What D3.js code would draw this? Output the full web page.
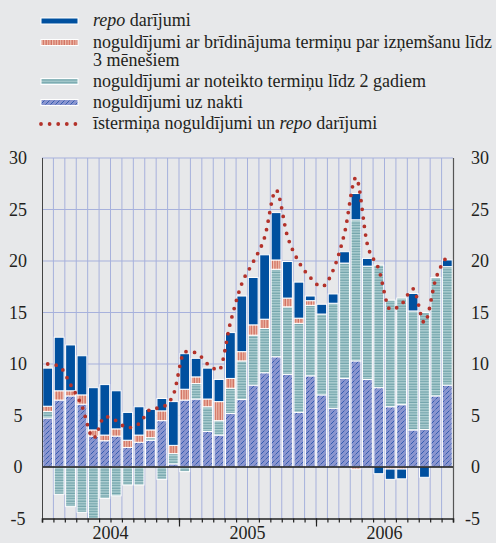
<!DOCTYPE html>
<html>
<head>
<meta charset="utf-8">
<script src="https://cdnjs.cloudflare.com/ajax/libs/d3/7.8.5/d3.min.js"></script>
<style>
  body { margin: 0; background: #e7e8ea; }
  svg { display: block; }
  text { font-family: "Liberation Serif", "Times New Roman", serif; fill: #231f20; }
</style>
</head>
<body>
<div class="container"></div>
<script>
// monthly data, Jan 2004 - Dec 2006
var years = ["2004", "2005", "2006"];

var overnight = [4.75, 6.5, 6.9, 6.1, 3.0, 2.55, 3.0, 1.9, 2.4, 2.6, 4.5, 0.3,
                 6.5, 6.6, 3.45, 3.1, 5.2, 6.55, 7.95, 9.15, 10.7, 9.0, 5.3, 8.85,
                 7.0, 5.7, 8.6, 10.3, 8.5, 7.7, 5.85, 6.05, 3.6, 3.65, 6.9, 7.95];

var fixedTerm = [0.65, -2.65, -3.85, -4.4, -5.0, -3.05, -2.8, -1.75, -1.75, 0.25, -1.2, 1.0,
                 -0.45, 1.5, 2.4, 1.4, 2.45, 3.75, 4.85, 4.3, 8.5, 6.55, 8.65, 6.85,
                 7.85, 10.2, 11.2, 13.7, 11.0, 11.9, 10.35, 10.35, 11.55, 11.35, 11.5, 11.5];

var notice = [0.5, 0.9, 0.5, 0.9, 0.6, 0.55, 0.7, 0.7, 0.7, 0.75, 0.95, 0.8,
              1.05, 0.65, 0.75, 1.85, 0.95, 0.9, 1.0, 0.9, 0.9, 0.85, 0.5, 0.45,
              0, 0, 0, -0.2, 0, 0, -0.2, -0.2, 0, 0, 0, 0];

var repo = [3.7, 5.2, 4.45, 3.8, 4.1, 4.9, 3.7, 2.7, 2.75, 2.0, 1.2, 4.25,
            3.45, 1.8, 3.0, 2.15, 4.45, 5.4, 4.6, 6.25, 4.6, 3.55, 3.5, 0.45,
            0.95, 0.9, 1.1, 2.55, 0.75, -0.65, -1.0, -0.95, 1.7, -1.0, 0, 0.65];

var total = [10.0, 9.8, 8.0, 5.9, 2.8, 4.9, 4.5, 3.8, 4.2, 5.6, 5.8, 7.0,
             11.2, 11.1, 10.0, 9.4, 14.0, 17.8, 19.9, 22.3, 26.9, 22.4, 19.9, 18.4,
             17.5, 19.1, 22.7, 28.1, 21.6, 19.2, 15.3, 15.8, 17.3, 14.0, 18.3, 20.5];

var yTicks = [-5, 0, 5, 10, 15, 20, 25, 30];

var width = 496;
var height = 543;

var svg = d3.select(".container").append("svg")
    .attr("width", width)
    .attr("height", height);

svg.append("rect").attr("width", width).attr("height", height).attr("fill", "#e7e8ea");

// patterns
var defs = svg.append("defs");

var pNight = defs.append("pattern").attr("id", "pNight")
    .attr("patternUnits", "userSpaceOnUse").attr("width", 5).attr("height", 5);
pNight.append("rect").attr("width", 5).attr("height", 5).attr("fill", "#8a95cf");
pNight.append("path").attr("d", "M0.5,4.5L4.5,0.5").attr("stroke", "#1f4fa8").attr("stroke-width", 0.8);

var pFixed = defs.append("pattern").attr("id", "pFixed")
    .attr("patternUnits", "userSpaceOnUse").attr("width", 4).attr("height", 2.6);
pFixed.append("rect").attr("width", 4).attr("height", 2.6).attr("fill", "#b0d0d3");
pFixed.append("rect").attr("y", 1.4).attr("width", 4).attr("height", 1.1).attr("fill", "#6a9ea6");

var pNotice = defs.append("pattern").attr("id", "pNotice")
    .attr("patternUnits", "userSpaceOnUse").attr("width", 2.6).attr("height", 4);
pNotice.append("rect").attr("width", 2.6).attr("height", 4).attr("fill", "#f0c0b0");
pNotice.append("rect").attr("x", 1.3).attr("width", 1.2).attr("height", 4).attr("fill", "#cd6757");

var keys = ["overnight", "fixedTerm", "notice", "repo"];
var fills = {overnight: "url(#pNight)", fixedTerm: "url(#pFixed)", notice: "url(#pNotice)", repo: "#00509f"};

var table = overnight.map(function(d, i) {
  return {i: i, overnight: overnight[i], fixedTerm: fixedTerm[i], notice: notice[i], repo: repo[i]};
});

var x = d3.scaleBand().domain(d3.range(36)).range([42, 453]);
var xl = d3.scaleLinear().domain([0, 36]).range([42, 453]);
var y = d3.scaleLinear().domain([-5, 30]).range([518.5, 158]);

// grid
var grid = svg.append("g").attr("stroke", "#a7b1dc").attr("stroke-width", 1);
grid.selectAll(".h").data([5, 10, 15, 20, 25, 30]).enter().append("line")
    .attr("x1", 42).attr("x2", 453)
    .attr("y1", function(d) { return y(d); }).attr("y2", function(d) { return y(d); });
grid.selectAll(".v").data(d3.range(1, 36)).enter().append("line")
    .attr("x1", function(d) { return xl(d); }).attr("x2", function(d) { return xl(d); })
    .attr("y1", y(30)).attr("y2", y(-5));

// stacked bars
var series = d3.stack().keys(keys).offset(d3.stackOffsetDiverging)(table);

svg.append("g").selectAll("g").data(series).enter().append("g")
    .attr("fill", function(s) { return fills[s.key]; })
    .selectAll("rect")
    .data(function(s) { return s.filter(function(d) { return Math.abs(d[1] - d[0]) > 0.001; }); })
    .enter().append("rect")
    .attr("x", function(d) { return x(d.data.i) + 0.8; })
    .attr("width", x.bandwidth() - 1.6)
    .attr("y", function(d) { return y(Math.max(d[0], d[1])); })
    .attr("height", function(d) { return Math.abs(y(d[0]) - y(d[1])); })
    .attr("stroke", "#fff")
    .attr("stroke-width", 1);

// zero line
svg.append("line").attr("x1", 42).attr("x2", 453)
    .attr("y1", y(0)).attr("y2", y(0))
    .attr("stroke", "#111").attr("stroke-width", 1.5);

// side axes
svg.append("line").attr("x1", 42.5).attr("x2", 42.5).attr("y1", y(30)).attr("y2", y(-5))
    .attr("stroke", "#444").attr("stroke-width", 1);
svg.append("line").attr("x1", 453.5).attr("x2", 453.5).attr("y1", y(30)).attr("y2", y(-5))
    .attr("stroke", "#555").attr("stroke-width", 1.2);

// bottom axis
var bottom = svg.append("g").attr("transform", "translate(0," + y(-5) + ")")
    .call(d3.axisBottom(xl).tickValues(d3.range(0, 37)).tickSize(4).tickFormat(""));
bottom.select(".domain").attr("stroke", "#222").attr("stroke-width", 1.5);
bottom.selectAll(".tick line").attr("stroke", "#222").attr("stroke-width", 1.2);

var yearTicks = svg.append("g").attr("transform", "translate(0," + y(-5) + ")")
    .call(d3.axisBottom(xl).tickValues([12, 24]).tickSize(8).tickFormat(""));
yearTicks.select(".domain").remove();
yearTicks.selectAll(".tick line").attr("stroke", "#222").attr("stroke-width", 1.2);

svg.selectAll(".year").data(years).enter().append("text")
    .attr("x", function(d, i) { return xl(i * 12 + 6); })
    .attr("y", 539)
    .attr("text-anchor", "middle")
    .attr("font-size", 18)
    .text(function(d) { return d; });

// y labels both sides
svg.selectAll(".yl").data(yTicks).enter().append("text")
    .attr("x", 18)
    .attr("y", function(d) { return y(d) + 6; })
    .attr("text-anchor", "middle")
    .attr("font-size", 18)
    .text(function(d) { return d; });
svg.selectAll(".yr").data(yTicks).enter().append("text")
    .attr("x", function(d) { return d < 0 ? 465 : 471; })
    .attr("y", function(d) { return y(d) + 6; })
    .attr("font-size", 18)
    .text(function(d) { return d; });

// total dotted line
var line = d3.line()
    .x(function(d, i) { return x(i) + x.bandwidth() / 2; })
    .y(function(d) { return y(d); })
    .curve(d3.curveMonotoneX);

svg.append("path").datum(total)
    .attr("d", line)
    .attr("fill", "none")
    .attr("stroke", "#b3322a")
    .attr("stroke-width", 3.8)
    .attr("stroke-linecap", "round")
    .attr("stroke-dasharray", "0,8.6");

// legend
var legend = svg.append("g");
var legendItems = [
  {key: "repo", y: 21, parts: [["repo", true], [" darījumi", false]]},
  {key: "notice", y: 42.5, parts: [["noguldījumi ar brīdinājuma termiņu par izņemšanu līdz", false]]},
  {key: null, y: 61, parts: [["3 mēnešiem", false]]},
  {key: "fixedTerm", y: 81.5, parts: [["noguldījumi ar noteikto termiņu līdz 2 gadiem", false]]},
  {key: "overnight", y: 102.5, parts: [["noguldījumi uz nakti", false]]},
  {key: "line", y: 124, parts: [["īstermiņa noguldījumi un ", false], ["repo", true], [" darījumi", false]]}
];

legendItems.forEach(function(it) {
  if (it.key && it.key !== "line") {
    legend.append("rect").attr("x", 41).attr("y", it.y - 3).attr("width", 37).attr("height", 6)
        .attr("fill", fills[it.key]).attr("stroke", "#fff").attr("stroke-width", 1);
  }
  if (it.key === "line") {
    legend.append("path").attr("d", "M41," + it.y + "L76," + it.y)
        .attr("stroke", "#b3322a").attr("stroke-width", 3.8)
        .attr("stroke-linecap", "round").attr("stroke-dasharray", "0,8.6");
  }
  var t = legend.append("text").attr("x", 93).attr("y", it.y + 5).attr("font-size", 18);
  it.parts.forEach(function(p) {
    t.append("tspan").attr("font-style", p[1] ? "italic" : null).text(p[0]);
  });
});
</script>
</body>
</html>
